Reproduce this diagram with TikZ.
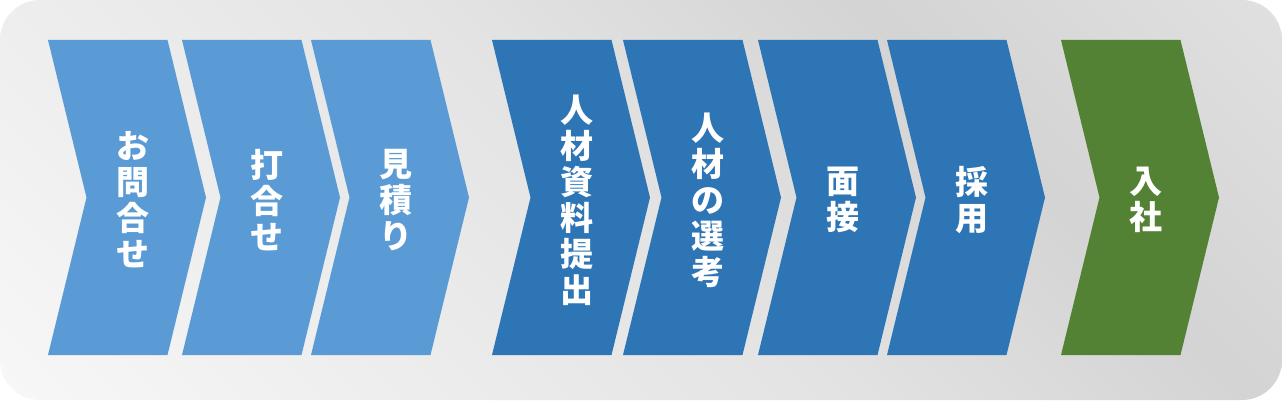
\documentclass[tikz,border=0pt]{standalone}
\usepackage{fontspec}
\newfontfamily\jpfont{Noto Sans CJK JP}
\usetikzlibrary{calc}
\definecolor{lightstep}{HTML}{5B9BD5}
\definecolor{darkstep}{HTML}{2E75B6}
\definecolor{joinstep}{HTML}{548235}
\pgfdeclarehorizontalshading{panelshade}{100bp}{
  color(0bp)=(black!3); color(14.6bp)=(black!3); color(50bp)=(black!11);
  color(67.7bp)=(black!17); color(85.4bp)=(black!12); color(100bp)=(black!12)}
\tikzstyle{steplabel} = [text=white, align=center, inner sep=0pt,
font=\jpfont\bfseries\fontsize{33}{36}\selectfont]

\begin{document}
\begin{tikzpicture} [x=1pt, y=1pt]
  \useasboundingbox (0,0) rectangle (1282,400);
  \shade[rounded corners=40pt, shading=panelshade, shading angle=45]
    (0,0) rectangle (1282,400);

  % chevrons: left edge / colour / label
  \foreach \lx/\col/\txt/\nm in {48/lightstep/お\\問\\合\\せ/inquiry,
      182/lightstep/打\\合\\せ/meeting,
      311/lightstep/見\\積\\り/estimate,
      492/darkstep/人\\材\\資\\料\\提\\出/profiles,
      623/darkstep/人\\材\\の\\選\\考/screening,
      758/darkstep/面\\接/interview,
      887/darkstep/採\\用/hiring,
      1061/joinstep/入\\社/joining} {
    \fill[\col] (\lx,360) -- ++(119.5,0) -- ++(38.5,-157.5) -- ++(-38.5,-157.5)
      -- ++(-119.5,0) -- ++(38.5,157.5) -- cycle;
    \node (\nm) [steplabel] at (\lx+84.5,200) {\txt};
  }
\end{tikzpicture}
\end{document}
